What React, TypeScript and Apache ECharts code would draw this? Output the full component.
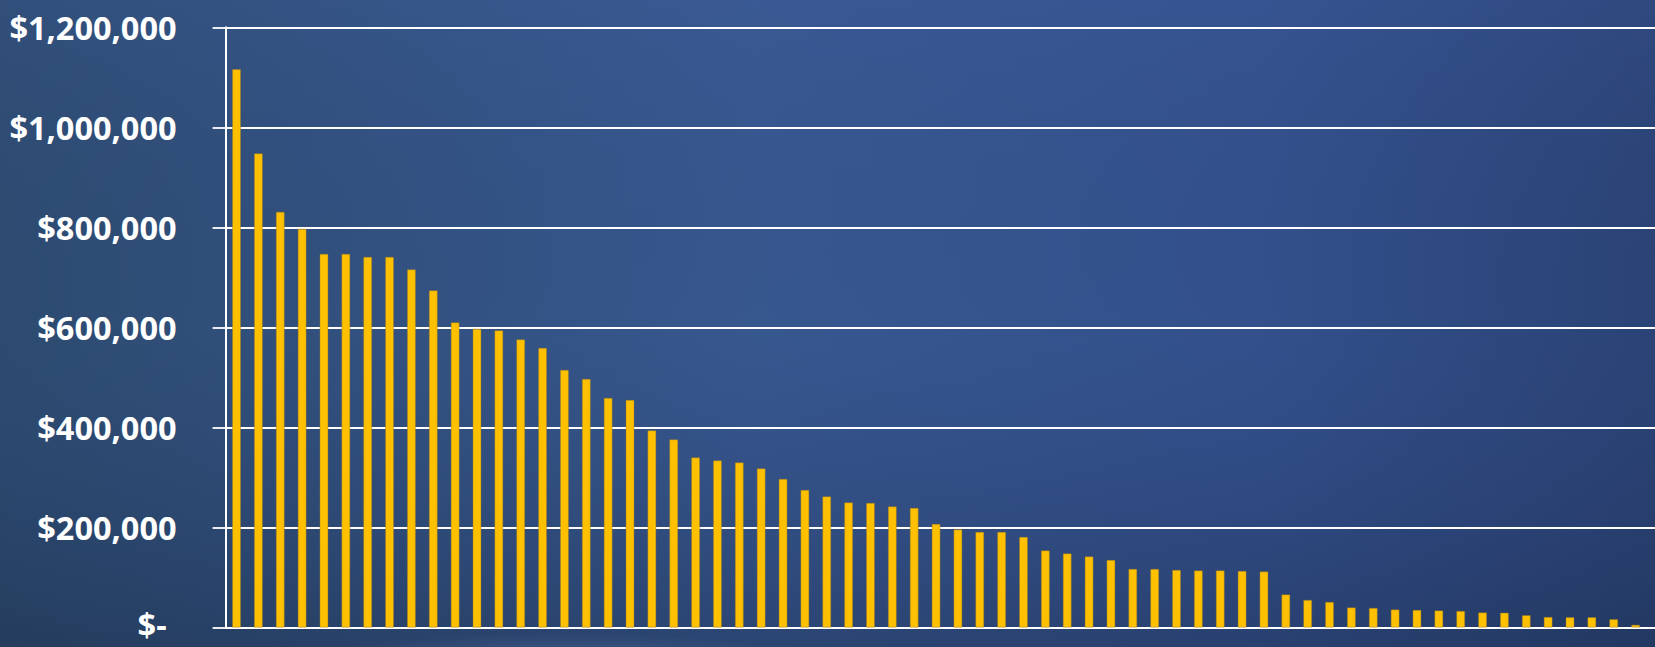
import React, { useEffect, useRef } from "react";
import * as echarts from "echarts";

// Rank of each entry (one bar per entry)
const categories = [
  "1", "2", "3", "4", "5", "6", "7", "8", "9", "10",
  "11", "12", "13", "14", "15", "16", "17", "18", "19", "20",
  "21", "22", "23", "24", "25", "26", "27", "28", "29", "30",
  "31", "32", "33", "34", "35", "36", "37", "38", "39", "40",
  "41", "42", "43", "44", "45", "46", "47", "48", "49", "50",
  "51", "52", "53", "54", "55", "56", "57", "58", "59", "60",
  "61", "62", "63", "64", "65",
];

// Amounts in dollars
const amounts = [
  1116000, 948000, 831000, 797000, 747000, 747000, 741000, 741000, 716000, 674000,
  610000, 597000, 594000, 576000, 559000, 515000, 497000, 459000, 455000, 394000,
  376000, 340000, 334000, 330000, 318000, 297000, 275000, 262000, 250000, 249000,
  242000, 239000, 207000, 196000, 191000, 191000, 181000, 154000, 148000, 142000,
  135000, 117000, 117000, 115000, 114000, 114000, 113000, 112000, 66000, 55000,
  51000, 40000, 39000, 36000, 35000, 34000, 33000, 30000, 29500, 24500,
  21000, 20500, 20500, 16500, 5300,
];

// Y axis ticks
const yMin = 0;
const yMax = 1200000;
const yStep = 200000;

export default function App() {
  const ref = useRef<HTMLDivElement>(null);

  useEffect(() => {
    if (!ref.current) return;
    const chart = echarts.init(ref.current, undefined, { renderer: "svg" });
    // the plot area continues one band beyond the last bar (cropped by the page edge)
    const axisCategories = categories.concat([""]);
    const band = 21.86;
    const font = "'Open Sans', 'Noto Sans', sans-serif";

    chart.setOption({
      animation: false,
      backgroundColor: new echarts.graphic.LinearGradient(0, 0, 1, 0, [
        { offset: 0, color: "#2d4b70" },
        { offset: 0.45, color: "#37578f" },
        { offset: 0.75, color: "#33508c" },
        { offset: 1, color: "#2a4274" },
      ]),
      graphic: [
        {
          type: "rect",
          z: -100,
          silent: true,
          shape: { x: 0, y: 0, width: 1680, height: 647 },
          style: {
            fill: new echarts.graphic.LinearGradient(0, 0, 0, 1, [
              { offset: 0, color: "rgba(70,100,170,0.18)" },
              { offset: 0.5, color: "rgba(40,60,110,0.0)" },
              { offset: 1, color: "rgba(20,35,60,0.35)" },
            ]),
          },
        },
        {
          type: "ellipse",
          z: -90,
          silent: true,
          shape: { cx: 560, cy: 690, rx: 330, ry: 58 },
          style: {
            fill: new echarts.graphic.RadialGradient(0.5, 0.5, 0.5, [
              { offset: 0, color: "rgba(120,150,210,0.55)" },
              { offset: 1, color: "rgba(120,150,210,0)" },
            ]),
          },
        },
      ],
      grid: {
        left: 225.6,
        top: 27.3,
        height: 604.4,
        width: band * axisCategories.length,
        containLabel: false,
      },
      xAxis: {
        type: "category",
        data: axisCategories,
        boundaryGap: true,
        axisLine: { show: true, lineStyle: { color: "#ffffff", width: 2 } },
        axisTick: { show: false },
        axisLabel: { show: false },
        splitLine: { show: false },
      },
      yAxis: {
        type: "value",
        min: yMin,
        max: yMax,
        interval: yStep,
        axisLine: { show: true, lineStyle: { color: "#ffffff", width: 2 } },
        axisTick: {
          show: true,
          inside: false,
          length: 13,
          lineStyle: { color: "#ffffff", width: 1.8 },
        },
        splitLine: { show: true, lineStyle: { color: "#ffffff", width: 1.8 } },
        axisLabel: {
          color: "#ffffff",
          fontFamily: font,
          fontWeight: "bold",
          fontSize: 32.5,
          margin: 49,
          formatter: (v: number) =>
            v === 0 ? "{z|$-}" : "$" + v.toLocaleString("en-US"),
          rich: {
            z: {
              color: "#ffffff",
              fontFamily: font,
              fontWeight: "bold",
              fontSize: 32.5,
              lineHeight: 26,
              padding: [0, 10, 6, 0],
            },
          },
        },
      },
      series: [
        {
          type: "bar",
          data: amounts,
          barWidth: 8.6,
          itemStyle: {
            color: "#FFC000",
            borderColor: "rgba(150,120,40,0.7)",
            borderWidth: 0.6,
          },
        },
      ],
    });

    return () => chart.dispose();
  }, []);

  return (
    <div
      style={{
        position: "fixed",
        left: 0,
        top: 0,
        width: 1655,
        height: 647,
        overflow: "hidden",
      }}
    >
      <div ref={ref} style={{ width: 1680, height: 647 }} />
    </div>
  );
}
